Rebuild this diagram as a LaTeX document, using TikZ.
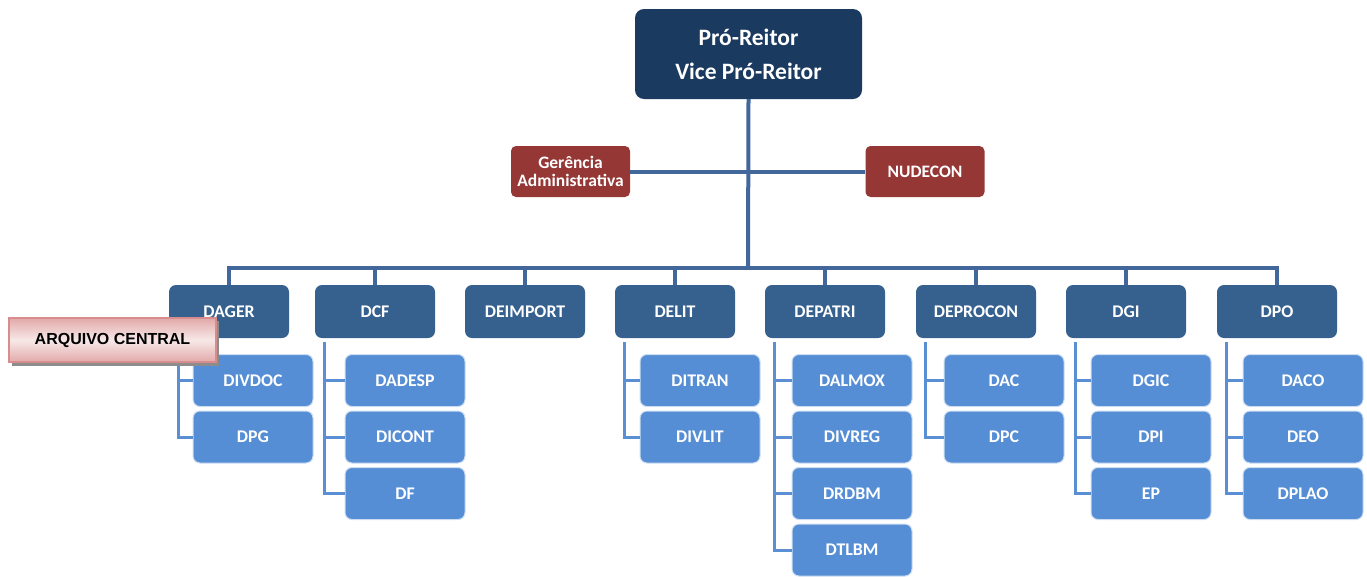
\documentclass[tikz,border=0pt]{standalone}
\usepackage{fontspec}
\setmainfont{Carlito}
\newfontfamily\arialfont{Liberation Sans}
\definecolor{topc}{HTML}{1B3A60}
\definecolor{lvtwo}{HTML}{36618F}
\definecolor{child}{HTML}{558ED5}
\definecolor{redc}{HTML}{953735}
\definecolor{mainline}{HTML}{41679B}
\definecolor{childline}{HTML}{5B8FD3}
\definecolor{pinkb}{HTML}{D98C8C}
\begin{document}
\begin{tikzpicture}[x=1pt,y=-1pt,
  topbox/.style={rectangle,rounded corners=9pt,fill=topc,text=white,font=\bfseries\fontsize{23.5}{34}\selectfont,minimum width=227pt,minimum height=90pt,align=center,inner sep=0pt},
  redbox/.style={rectangle,rounded corners=5pt,fill=redc,text=white,font=\bfseries\fontsize{17.5}{18}\selectfont,minimum width=119pt,minimum height=51pt,align=center,inner sep=0pt},
  depbox/.style={rectangle,rounded corners=7pt,fill=lvtwo,text=white,font=\bfseries\fontsize{17.8}{19}\selectfont,minimum width=120pt,minimum height=53pt,inner sep=0pt},
  subbox/.style={rectangle,rounded corners=7pt,fill=child,draw=white!70!child,line width=1pt,text=white,font=\bfseries\fontsize{17.8}{19}\selectfont,minimum width=120pt,minimum height=52pt,inner sep=0pt},
  mline/.style={draw=mainline,line width=4pt},
  cline/.style={draw=childline,line width=3pt}]
\useasboundingbox (0,0) rectangle (1367,576);

% top
\node[topbox] (top) at (748.5,54) {Pró-Reitor\\Vice Pró-Reitor};
\node[redbox] (ger) at (570.5,171.5) {Gerência\\Administrativa};
\node[redbox] (nud) at (925,171.5) {NUDECON};

% departments
\node[depbox] (dager) at (229,311.5) {DAGER};
\node[depbox] (dcf) at (375,311.5) {DCF};
\node[depbox] (deimport) at (525,311.5) {DEIMPORT};
\node[depbox] (delit) at (675,311.5) {DELIT};
\node[depbox] (depatri) at (825,311.5) {DEPATRI};
\node[depbox] (deprocon) at (976,311.5) {DEPROCON};
\node[depbox] (dgi) at (1126,311.5) {DGI};
\node[depbox] (dpo) at (1277,311.5) {DPO};

\coordinate (bus) at (748,268);
\draw[mline] (top.south) -- (bus);
\draw[mline] (ger.east) -- (nud.west);
\draw[mline,line cap=rect] (bus -| dager.north) -- (bus -| dpo.north);
\foreach \d in {dager,dcf,deimport,delit,depatri,deprocon,dgi,dpo}
  \draw[mline] (bus -| \d.north) -- (\d.north);

% children
\node[subbox] (divdoc) at (253,380.5) {DIVDOC};
\node[subbox] (dpg) at (253,437) {DPG};
\node[subbox] (dadesp) at (405,380.5) {DADESP};
\node[subbox] (dicont) at (405,437) {DICONT};
\node[subbox] (df) at (405,493.5) {DF};
\node[subbox] (ditran) at (700,380.5) {DITRAN};
\node[subbox] (divlit) at (700,437) {DIVLIT};
\node[subbox] (dalmox) at (852,380.5) {DALMOX};
\node[subbox] (divreg) at (852,437) {DIVREG};
\node[subbox] (drdbm) at (852,493.5) {DRDBM};
\node[subbox] (dtlbm) at (852,550) {DTLBM};
\node[subbox] (dac) at (1004,380.5) {DAC};
\node[subbox] (dpc) at (1004,437) {DPC};
\node[subbox] (dgic) at (1151,380.5) {DGIC};
\node[subbox] (dpi) at (1151,437) {DPI};
\node[subbox] (ep) at (1151,493.5) {EP};
\node[subbox] (daco) at (1303,380.5) {DACO};
\node[subbox] (deo) at (1303,437) {DEO};
\node[subbox] (dplao) at (1303,493.5) {DPLAO};

\foreach \p/\cs in {dager/{divdoc,dpg},dcf/{dadesp,dicont,df},delit/{ditran,divlit},depatri/{dalmox,divreg,drdbm,dtlbm},deprocon/{dac,dpc},dgi/{dgic,dpi,ep},dpo/{daco,deo,dplao}}
  \foreach \c in \cs
    \draw[cline] ([xshift=10pt,yshift=-4pt]\p.south west) |- (\c.west);

% arquivo central
\fill[black!45] (12,321) rectangle (219,366);
\node[rectangle,draw=pinkb,line width=1.2pt,top color=pinkb!75,bottom color=pinkb!75,middle color=pinkb!20,
  minimum width=207pt,minimum height=44pt,inner sep=0pt,font=\arialfont\bfseries\fontsize{16}{18}\selectfont,text=black] (arq) at (112.5,340) {ARQUIVO CENTRAL};
\end{tikzpicture}
\end{document}
